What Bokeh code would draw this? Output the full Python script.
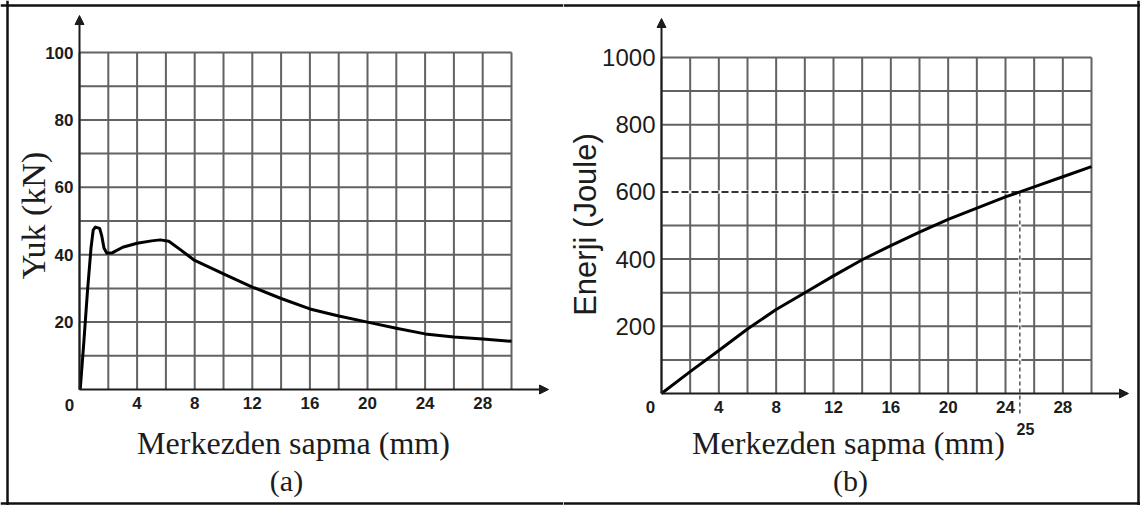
import math
from bokeh.plotting import figure
from bokeh.layouts import row
from bokeh.models import Range1d, LinearAxis, FixedTicker, Span, Arrow, NormalHead
from bokeh.core.properties import value
from bokeh.embed import file_html
from bokeh.resources import INLINE

# ---------------- data ----------------
# panel (a): load vs deflection
deflection_a = [0.05, 0.3, 0.55, 0.8, 0.95, 1.1, 1.4, 1.55, 1.7, 1.9, 2.3, 3.0, 4.0, 5.0,
                5.6, 6.2, 7.0, 8.0, 10.0, 12.0, 14.0, 16.0, 18.0, 20.0, 22.0, 24.0, 26.0, 28.0, 30.0]
load_kn = [0.0, 14.0, 29.0, 42.0, 47.3, 48.2, 47.8, 45.5, 42.0, 40.4, 40.6, 42.2, 43.4, 44.1,
           44.4, 44.0, 41.5, 38.3, 34.3, 30.4, 27.0, 23.9, 21.8, 20.0, 18.2, 16.5, 15.6, 15.0, 14.3]

# panel (b): energy vs deflection
deflection_b = [0, 2, 4, 6, 8, 10, 12, 14, 16, 18, 20, 22, 24, 26, 28, 30]
energy_j = [0, 65, 128, 192, 250, 300, 350, 398, 440, 480, 518, 552, 585, 615, 645, 675]

# ticks / grid
x_tick_labels = [4, 8, 12, 16, 20, 24, 28]
grid_x = [0, 2, 4, 6, 8, 10, 12, 14, 16, 18, 20, 22, 24, 26, 28, 30]
grid_y_a = [10, 20, 30, 40, 50, 60, 70, 80, 90, 100]
y_ticks_a = [20, 40, 60, 80, 100]
grid_y_b = [100, 200, 300, 400, 500, 600, 700, 800, 900, 1000]
y_ticks_b = [200, 400, 600, 800, 1000]

# marked point on (b)
mark_x = 25
mark_y = 600

x_title = "Merkezden sapma (mm)"
y_title_a = "Yuk (kN)"
y_title_b = "Enerji (Joule)"
caption_a = "(a)"
caption_b = "(b)"

# ---------------- layout ----------------
H = 505
OFF_X = 0
OFF_Y = 0
WA = 563
WB = 577

SERIF = value("Liberation Serif")
SANS = value("Liberation Sans")
SANS_NAME = "Liberation Sans"
INK = "#1c1c1c"
GRID = "#626262"
FRAME = "#111111"


def make_panel(width, off_x, x0px, x30px, y0px, ytop_px, ytop_val):
    sx = (x30px - x0px) / 30.0
    sy = (y0px - ytop_px) / ytop_val
    cx0 = x0px - off_x
    b = H - (y0px - OFF_Y)
    xr = Range1d(-cx0 / sx, (width - cx0) / sx)
    yr = Range1d(-b / sy, (H - b) / sy)
    p = figure(width=width, height=H, x_range=xr, y_range=yr,
               output_backend="svg", toolbar_location=None,
               x_axis_location=None, y_axis_location=None, min_border=0)
    p.xgrid.grid_line_color = None
    p.ygrid.grid_line_color = None
    p.outline_line_color = None
    p.background_fill_color = "white"
    p.border_fill_color = "white"

    def dx(px):
        return (px - x0px) / sx

    def dy(py):
        return (y0px - py) / sy

    return p, dx, dy


def add_grid(p, gx, gy):
    xmax = gx[-1]
    ymax = gy[-1]
    p.segment(x0=gx, y0=[0] * len(gx), x1=gx, y1=[ymax] * len(gx),
              line_color=GRID, line_width=2)
    p.segment(x0=[0] * len(gy), y0=gy, x1=[xmax] * len(gy), y1=gy,
              line_color=GRID, line_width=2)


def add_axes(p, x_end, y_end, yticks, y_font_size, y_style, label_standoff_x):
    p.add_layout(Arrow(x_start=0, y_start=0, x_end=x_end, y_end=0, line_width=2, line_color=INK,
                       end=NormalHead(size=9, fill_color=INK, line_color=INK)))
    p.add_layout(Arrow(x_start=0, y_start=0, x_end=0, y_end=y_end, line_width=2, line_color=INK,
                       end=NormalHead(size=9, fill_color=INK, line_color=INK)))
    xa = LinearAxis(fixed_location=0, ticker=FixedTicker(ticks=x_tick_labels),
                    axis_line_color=None, major_tick_line_color=None, minor_tick_line_color=None,
                    major_tick_in=0, major_tick_out=0, minor_tick_in=0, minor_tick_out=0,
                    major_label_standoff=label_standoff_x,
                    major_label_text_font=SANS_NAME, major_label_text_font_size="17px",
                    major_label_text_font_style="bold", major_label_text_color=INK)
    p.add_layout(xa, "below")
    ya = LinearAxis(fixed_location=0, ticker=FixedTicker(ticks=yticks),
                    axis_line_color=None, major_tick_line_color=None, minor_tick_line_color=None,
                    major_tick_in=0, major_tick_out=0, minor_tick_in=0, minor_tick_out=0,
                    major_label_standoff=6,
                    major_label_text_font=SANS_NAME, major_label_text_font_size=y_font_size,
                    major_label_text_font_style=y_style, major_label_text_color=INK)
    p.add_layout(ya, "left")


def add_text(p, x, y, txt, font, size, angle=0.0, style="normal"):
    p.text(x=[x], y=[y], text=[txt], text_font=font, text_font_size=size,
           text_font_style=style, text_align="center", text_baseline="middle",
           text_color=INK, angle=angle)


def add_border(p, dx, dy, left=None, right=None, top=5, bottom=503):
    if left is not None:
        p.add_layout(Span(location=dx(left), dimension="height", line_color=FRAME, line_width=2.5))
    if right is not None:
        p.add_layout(Span(location=dx(right), dimension="height", line_color=FRAME, line_width=2.5))
    p.add_layout(Span(location=dy(top), dimension="width", line_color=FRAME, line_width=2.5))
    p.add_layout(Span(location=dy(bottom), dimension="width", line_color=FRAME, line_width=2.5))


# ---------------- panel (a) ----------------
pa, dxa, dya = make_panel(WA, OFF_X, 79, 511, 389, 52, 100)
add_grid(pa, grid_x, grid_y_a)
add_axes(pa, dxa(548), dya(15), y_ticks_a, "17px", "bold", 7)
pa.line(deflection_a, load_kn, line_color="black", line_width=3, line_join="round")
add_text(pa, dxa(69), dya(404), "0", SANS, "17px", style="bold")
add_text(pa, dxa(33), dya(215), y_title_a, SERIF, "34px", angle=math.pi / 2)
add_text(pa, dxa(293), dya(442), x_title, SERIF, "32px")
add_text(pa, dxa(286), dya(480), caption_a, SERIF, "30px")
add_border(pa, dxa, dya, left=7)

# ---------------- panel (b) ----------------
off_b = OFF_X + WA
pb, dxb, dyb = make_panel(WB, off_b, 661, 1091, 393, 57, 1000)
add_grid(pb, grid_x, grid_y_b)
# reference marker lines
pb.line([0, mark_x], [mark_y, mark_y], line_color="white", line_width=3)
pb.line([0, mark_x], [mark_y, mark_y], line_color="#333333", line_width=2, line_dash="7 3")
pb.line([mark_x, mark_x], [dyb(413), mark_y], line_color="white", line_width=3)
pb.line([mark_x, mark_x], [dyb(413), mark_y], line_color="#555555", line_width=1.5, line_dash="4 3")
add_axes(pb, dxb(1128), dyb(18), y_ticks_b, "24px", "normal", 7)
pb.line(deflection_b, energy_j, line_color="black", line_width=3, line_join="round")
add_text(pb, dxb(650), dyb(406), "0", SANS, "17px", style="bold")
add_text(pb, dxb(1025), dyb(428), str(mark_x), SANS, "16px", style="bold")
add_text(pb, dxb(585), dyb(224), y_title_b, SANS, "31px", angle=math.pi / 2)
add_text(pb, dxb(848), dyb(442), x_title, SERIF, "32px")
add_text(pb, dxb(850), dyb(480), caption_b, SERIF, "30px")
add_border(pb, dxb, dyb, right=1138)

layout = row(pa, pb)
open("out.html", "w").write(file_html(layout, INLINE))
